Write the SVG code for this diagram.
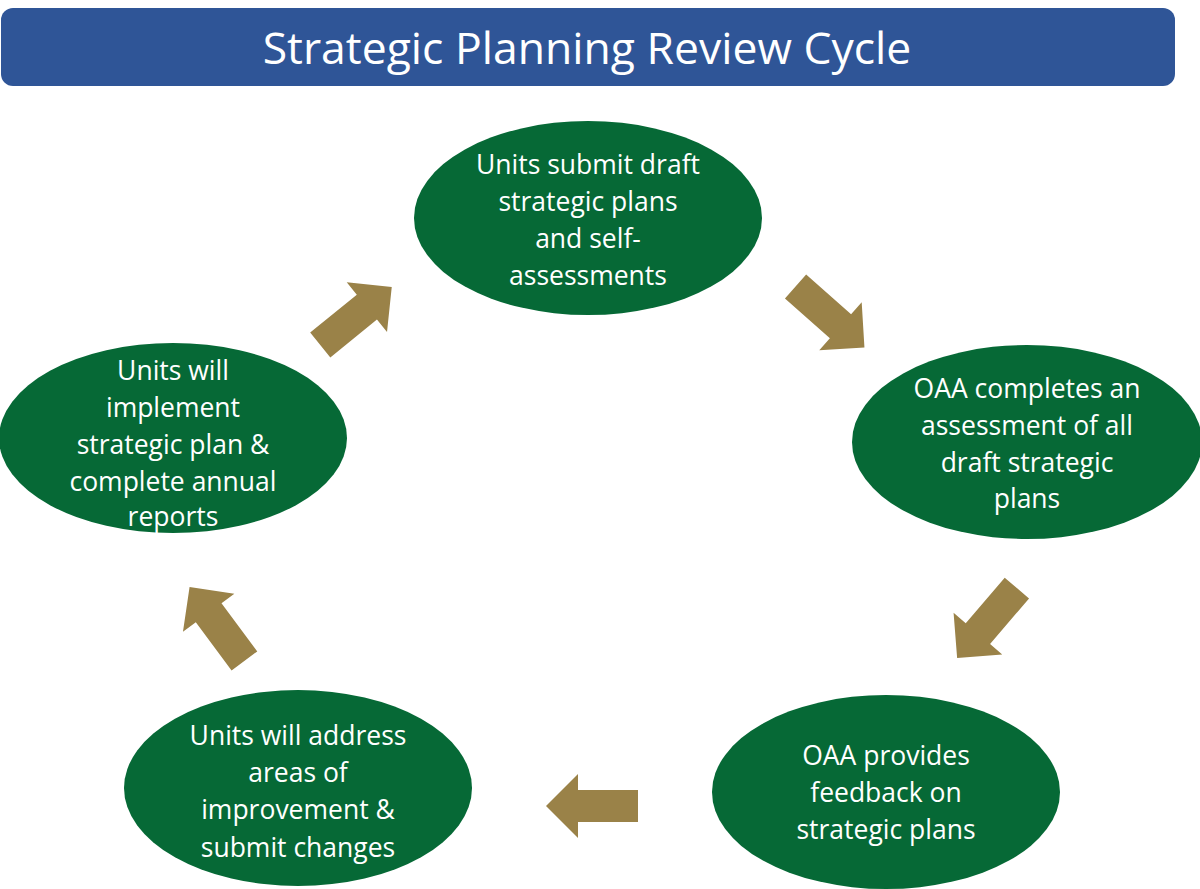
<svg xmlns="http://www.w3.org/2000/svg" width="1200" height="889" viewBox="0 0 1200 889">
<style>
.node{fill:#066936}
.lbl{font-family:"Open Sans","Liberation Sans",sans-serif;font-size:26.5px;fill:#ffffff;text-anchor:middle}
.arr{fill:#9A8248}
.title{font-family:"Open Sans","Liberation Sans",sans-serif;font-size:44.5px;fill:#ffffff;text-anchor:middle}
</style>
<defs>
<path id="arrow" d="M-46,-16 L14,-16 L14,-32 L46,0 L14,32 L14,16 L-46,16 Z"/>
</defs>
<rect width="1200" height="889" fill="#ffffff"/>
<g id="title">
<rect x="1" y="8" width="1174" height="78" rx="12" ry="12" fill="#2F5597"/>
<text class="title" x="587" y="64">Strategic Planning Review Cycle</text>
</g>
<g id="connectors">
<use href="#arrow" class="arr" transform="translate(356,316) rotate(-39)"/>
<use href="#arrow" class="arr" transform="translate(830,317) rotate(41.5)"/>
<use href="#arrow" class="arr" transform="translate(987,623) rotate(130.5)"/>
<use href="#arrow" class="arr" transform="translate(592,806) rotate(180)"/>
<use href="#arrow" class="arr" transform="translate(217,624) rotate(-126.6)"/>
</g>
<g id="node-submit">
<ellipse class="node" cx="588" cy="218" rx="174" ry="97"/>
<text class="lbl" x="588" y="174">Units submit draft</text>
<text class="lbl" x="588" y="211">strategic plans</text>
<text class="lbl" x="588" y="248">and self-</text>
<text class="lbl" x="588" y="285">assessments</text>
</g>
<g id="node-assess">
<ellipse class="node" cx="1027" cy="442" rx="175" ry="97"/>
<text class="lbl" x="1027" y="398">OAA completes an</text>
<text class="lbl" x="1027" y="435">assessment of all</text>
<text class="lbl" x="1027" y="472">draft strategic</text>
<text class="lbl" x="1027" y="508">plans</text>
</g>
<g id="node-feedback">
<ellipse class="node" cx="886" cy="792" rx="174" ry="97"/>
<text class="lbl" x="886" y="765">OAA provides</text>
<text class="lbl" x="886" y="802">feedback on</text>
<text class="lbl" x="886" y="839">strategic plans</text>
</g>
<g id="node-address">
<ellipse class="node" cx="298" cy="788" rx="174" ry="98"/>
<text class="lbl" x="298" y="745">Units will address</text>
<text class="lbl" x="298" y="782">areas of</text>
<text class="lbl" x="298" y="819">improvement &amp;</text>
<text class="lbl" x="298" y="857">submit changes</text>
</g>
<g id="node-implement">
<ellipse class="node" cx="173" cy="438" rx="174" ry="95"/>
<text class="lbl" x="173" y="380">Units will</text>
<text class="lbl" x="173" y="417">implement</text>
<text class="lbl" x="173" y="454">strategic plan &amp;</text>
<text class="lbl" x="173" y="491">complete annual</text>
<text class="lbl" x="173" y="526">reports</text>
</g>
</svg>
